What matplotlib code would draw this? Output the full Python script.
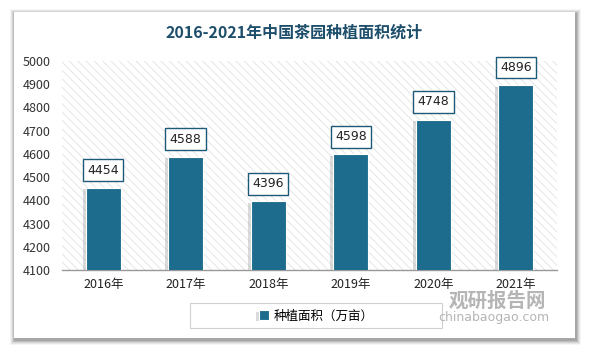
import matplotlib
matplotlib.use("Agg")
import matplotlib.pyplot as plt
from matplotlib.patches import Rectangle
import matplotlib.patheffects as pe

plt.rcParams['font.family'] = ['Noto Sans CJK SC', 'DejaVu Sans']
plt.rcParams['hatch.linewidth'] = 0.6

categories = ['2016年', '2017年', '2018年', '2019年', '2020年', '2021年']
values = [4454, 4588, 4396, 4598, 4748, 4896]
series_name = '种植面积（万亩）'
title = '2016-2021年中国茶园种植面积统计'
yticks = list(range(4100, 5001, 100))

W, H = 589, 351
dpi = 100
fig = plt.figure(figsize=(W / dpi, H / dpi), dpi=dpi)
fig.patch.set_facecolor('white')


def fig_rect(x0, y0, w, h, **kw):
    return Rectangle((x0 / W, 1 - (y0 + h) / H), w / W, h / H,
                     transform=fig.transFigure, **kw)


# card with shadow
for i, a in enumerate([0.04, 0.06, 0.08, 0.10, 0.12]):
    off = 5 - i
    fig.patches.append(fig_rect(14 - off + 1, 12 - off + 2, 561 + 2 * off, 326 + 2 * off,
                                facecolor='black', alpha=a, edgecolor='none', zorder=0))
fig.patches.append(fig_rect(14, 12, 561, 326, facecolor='white', edgecolor='none', zorder=1))

left, right, top, bottom = 62, 557, 61, 270
ax = fig.add_axes([left / W, 1 - bottom / H, (right - left) / W, (bottom - top) / H])
ax.set_facecolor('none')
ax.set_zorder(2)

ax.set_xlim(-0.5, len(categories) - 0.5)
ax.set_ylim(4100, 5000)

# hatched background
bg = Rectangle((-0.5, 4100), len(categories), 900, facecolor='white',
               edgecolor='#e2e2e2', hatch='\\\\\\\\', linewidth=0, zorder=0)
ax.add_patch(bg)

x = list(range(len(categories)))
bars = ax.bar(x, values, width=0.43, color='#1d6b8d', zorder=3,
              label=series_name, edgecolor='white', linewidth=0.8)
for b in bars:
    b.set_path_effects([pe.SimplePatchShadow(offset=(-2, -1), shadow_rgbFace='#999999', alpha=0.35),
                        pe.Normal()])

for xi, v in zip(x, values):
    ax.annotate(f'{v}', (xi, v), xytext=(0, 8), textcoords='offset points',
                ha='center', va='bottom', fontsize=9, color='#222222',
                family=['DejaVu Sans'],
                bbox=dict(boxstyle='square,pad=0.35', facecolor='white',
                          edgecolor='#1d5a78', linewidth=1.0), zorder=5)

ax.set_yticks(yticks)
ax.set_yticklabels([str(t) for t in yticks], fontsize=9, color='#333333')
ax.set_xticks(x)
ax.set_xticklabels(categories, fontsize=9, color='#222222')
ax.tick_params(axis='both', length=0, pad=6)
ax.tick_params(axis='y', pad=8)
for s in ['top', 'right', 'left']:
    ax.spines[s].set_visible(False)
ax.spines['bottom'].set_color('#999999')
ax.spines['bottom'].set_linewidth(1)

fig.text(0.5, 1 - 33 / H, title, ha='center', va='center', fontsize=11.5,
         color='#1d4e6b', fontweight='bold')

# legend frame drawn manually
fig.patches.append(fig_rect(190, 303, 252, 25, facecolor='white', edgecolor='#d0d0d0',
                            linewidth=0.8, zorder=3))
leg = fig.legend(handles=[bars], labels=[series_name], loc='center',
                 bbox_to_anchor=(316 / W, 1 - 316 / H), frameon=False, fontsize=9,
                 handlelength=0.8, handleheight=0.8, handletextpad=0.4)
leg.set_zorder(4)

# watermark
fig.text(497 / W, 1 - 301 / H, '观研报告网', ha='center', va='center', fontsize=14,
         color='#a8a8a8', fontweight='bold', alpha=0.85, zorder=10)
fig.text(494 / W, 1 - 318 / H, 'chinabaogao.com', ha='center', va='center', fontsize=9,
         color='#a8a8a8', alpha=0.85, family=['DejaVu Sans'], zorder=10)

fig.savefig('out.png', dpi=dpi)
